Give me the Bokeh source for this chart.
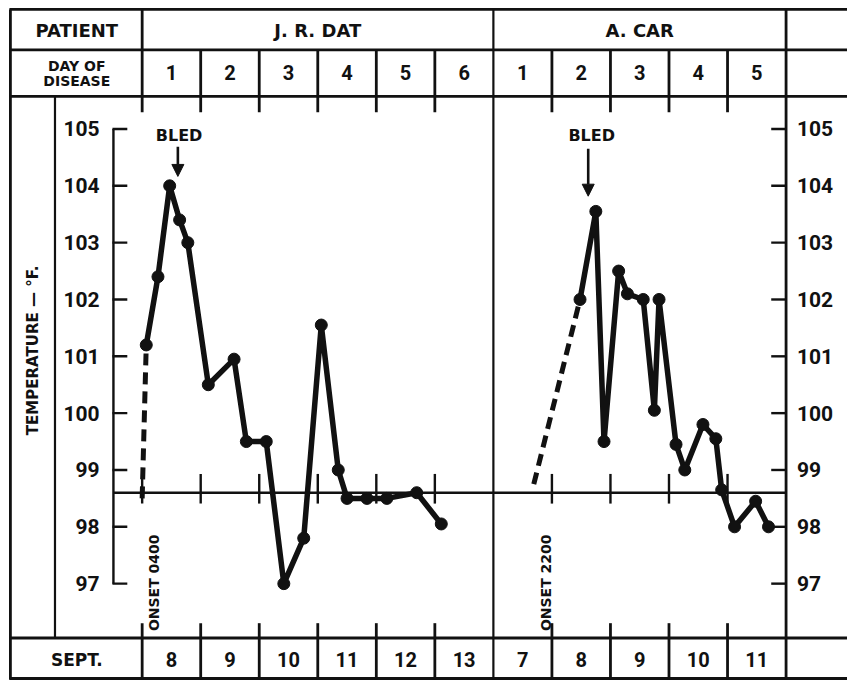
import numpy as np
from bokeh.plotting import figure
from bokeh.models import Range1d, Arrow, NormalHead
from bokeh.core.properties import value
from bokeh.embed import file_html
from bokeh.resources import INLINE

# ---------------- data ----------------
# time in days since the start of day 1 of the disease
jr_days = [0.07, 0.27, 0.47, 0.64, 0.78, 1.13, 1.57, 1.78, 2.12, 2.42, 2.76,
           3.06, 3.35, 3.50, 3.84, 4.18, 4.69, 5.11]
jr_temps = [101.2, 102.4, 104.0, 103.4, 103.0, 100.5, 100.95, 99.5, 99.5, 97.0, 97.8,
            101.55, 99.0, 98.5, 98.5, 98.5, 98.6, 98.05]
jr_onset_day = 0.0
jr_onset_temp = 98.5
jr_bled_day = 0.61

acar_days = [1.48, 1.75, 1.89, 2.14, 2.29, 2.56, 2.75, 2.83, 3.12, 3.27, 3.58,
             3.80, 3.90, 4.12, 4.48, 4.70]
acar_temps = [102.0, 103.55, 99.5, 102.5, 102.1, 102.0, 100.05, 102.0, 99.45, 99.0, 99.8,
              99.55, 98.65, 98.0, 98.45, 98.0]
acar_onset_day = 0.69
acar_onset_temp = 98.75
acar_bled_day = 1.62

normal_temp = 98.6
temp_ticks = [97, 98, 99, 100, 101, 102, 103, 104, 105]

patients = ["J. R. DAT", "A. CAR"]
jr_day_labels = ["1", "2", "3", "4", "5", "6"]
jr_sept_labels = ["8", "9", "10", "11", "12", "13"]
acar_day_labels = ["1", "2", "3", "4", "5"]
acar_sept_labels = ["7", "8", "9", "10", "11"]
onset_labels = ["ONSET 0400", "ONSET 2200"]

# ---------------- layout ----------------
W, H = 847, 680
REF_W, REF_H = 855, 688   # the drawing is laid out on an 855 x 688 sheet
X0 = 143.0        # sheet px of start of day 1 (J. R. DAT)
PX_DAY = 59.09    # sheet px per day
Y105 = 130.0      # sheet px of 105 F
PX_DEG = 57.5     # sheet px per degree
ACAR_OFFSET = len(jr_day_labels)
N_DAYS = len(jr_day_labels) + len(acar_day_labels)


def fx(px):
    return (px - X0) / PX_DAY


def fy(py):
    return 105 - (py - Y105) / PX_DEG


p = figure(width=W, height=H, output_backend="svg", toolbar_location=None,
           x_range=Range1d(fx(0), fx(REF_W)),
           y_range=Range1d(fy(REF_H), fy(0)),
           x_axis_location=None, y_axis_location=None,
           min_border=0, min_border_left=0, min_border_right=0,
           min_border_top=0, min_border_bottom=0)
p.grid.visible = False
p.outline_line_color = None
p.background_fill_color = "white"
p.border_fill_color = "white"

INK = "#111111"
WORD_FONT = value("DejaVu Sans")
NUM_FONT = value("Roboto")

# ---- table frame ----
hx0, hx1, hy, hw = [], [], [], []
for py in [9, 50, 97, 645, 686]:
    hx0.append(fx(9)); hx1.append(fx(870)); hy.append(fy(py)); hw.append(2.8)
p.segment(x0=hx0, y0=hy, x1=hx1, y1=hy, line_width=hw, line_color=INK)

vx, vy0, vy1, vw = [], [], [], []
# full-height lines: left frame, patient separator, right axis
vx += [fx(10), 0 + ACAR_OFFSET, N_DAYS]
vy0 += [fy(9)] * 3
vy1 += [fy(687)] * 3
vw += [2.8, 2.2, 2.8]
# label column separator
vx.append(fx(55)); vy0.append(fy(97)); vy1.append(fy(645)); vw.append(2.2)
# day boundaries: header cells + ticks, baseline ticks, bottom cells + ticks
for k in range(N_DAYS):
    if k == ACAR_OFFSET:
        continue
    top = 9 if k == 0 else 50
    vx += [k, k, k]
    vy0 += [fy(top), fy(479), fy(630)]
    vy1 += [fy(113), fy(509), fy(687)]
    vw += [2.8, 2.4, 2.8]
p.segment(x0=vx, y0=vy0, x1=vx, y1=vy1, line_width=vw, line_color=INK)

# ---- temperature axes ----
p.segment(x0=[fx(114)], y0=[temp_ticks[0]], x1=[fx(114)], y1=[temp_ticks[-1]],
          line_width=2.4, line_color=INK)
p.segment(x0=[fx(113)] * len(temp_ticks), y0=temp_ticks,
          x1=[fx(128)] * len(temp_ticks), y1=temp_ticks, line_width=2.4, line_color=INK)
p.segment(x0=[fx(778)] * len(temp_ticks), y0=temp_ticks,
          x1=[N_DAYS] * len(temp_ticks), y1=temp_ticks, line_width=2.4, line_color=INK)
tick_txt = [str(t) for t in temp_ticks]
p.text(x=[fx(100)] * len(temp_ticks), y=temp_ticks, text=tick_txt,
       text_font=NUM_FONT, text_font_style="bold", text_font_size="21px",
       text_align="right", text_baseline="middle", text_color=INK)
p.text(x=[fx(804)] * len(temp_ticks), y=temp_ticks, text=tick_txt,
       text_font=NUM_FONT, text_font_style="bold", text_font_size="21px",
       text_align="left", text_baseline="middle", text_color=INK)

# normal line
p.segment(x0=[fx(114)], y0=[normal_temp], x1=[N_DAYS], y1=[normal_temp],
          line_width=2.6, line_color=INK)


# ---- header / footer texts ----
def label(xs, ys, texts, size, align="center", angle=0.0, x_offset=0, font=WORD_FONT):
    p.text(x=xs, y=ys, text=texts, text_font=font, text_font_style="bold",
           text_font_size=size, text_align=align, text_baseline="middle",
           text_color=INK, angle=angle, x_offset=x_offset)


label([fx(77)], [fy(30)], ["PATIENT"], "18px")
label([ACAR_OFFSET / 2, ACAR_OFFSET + len(acar_day_labels) / 2], [fy(30)] * 2, patients, "18px")
label([fx(77), fx(77)], [fy(66), fy(81)], ["DAY OF", "DISEASE"], "14px")
label([fx(77)], [fy(667)], ["SEPT."], "17px")

day_x = [i + 0.5 for i in range(len(jr_day_labels))] + \
        [ACAR_OFFSET + i + 0.5 for i in range(len(acar_day_labels))]
label(day_x, [fy(73)] * len(day_x), jr_day_labels + acar_day_labels, "20px", font=NUM_FONT)
label(day_x, [fy(667)] * len(day_x), jr_sept_labels + acar_sept_labels, "20px", font=NUM_FONT)

label([fx(33)], [fy(354)], ["TEMPERATURE — °F."], "15px", angle=np.pi / 2)

# onset labels (rotated, reading upward)
label([jr_onset_day, ACAR_OFFSET + acar_onset_day], [fy(638)] * 2, onset_labels,
      "14px", align="left", angle=np.pi / 2, x_offset=12)

# ---- data lines ----
acar_x = [d + ACAR_OFFSET for d in acar_days]
p.line([jr_onset_day, jr_days[0]], [jr_onset_temp, jr_temps[0]],
       line_width=5, line_color=INK, line_dash="12 7")
p.line([ACAR_OFFSET + acar_onset_day, acar_x[0]], [acar_onset_temp, acar_temps[0]],
       line_width=5, line_color=INK, line_dash="12 7")
p.line(jr_days, jr_temps, line_width=5.5, line_color=INK, line_join="round")
p.line(acar_x, acar_temps, line_width=5.5, line_color=INK, line_join="round")
p.scatter(jr_days, jr_temps, size=12, color=INK)
p.scatter(acar_x, acar_temps, size=12, color=INK)

# ---- BLED annotations ----
label([jr_bled_day + 0.02, ACAR_OFFSET + acar_bled_day + 0.06], [fy(137)] * 2,
      ["BLED", "BLED"], "16px")
p.add_layout(Arrow(end=NormalHead(size=12, fill_color=INK, line_color=INK),
                   x_start=jr_bled_day, y_start=fy(148), x_end=jr_bled_day, y_end=fy(178),
                   line_width=2.6, line_color=INK))
p.add_layout(Arrow(end=NormalHead(size=12, fill_color=INK, line_color=INK),
                   x_start=ACAR_OFFSET + acar_bled_day, y_start=fy(150),
                   x_end=ACAR_OFFSET + acar_bled_day, y_end=fy(198),
                   line_width=2.6, line_color=INK))

open("out.html", "w").write(file_html(p, INLINE))
